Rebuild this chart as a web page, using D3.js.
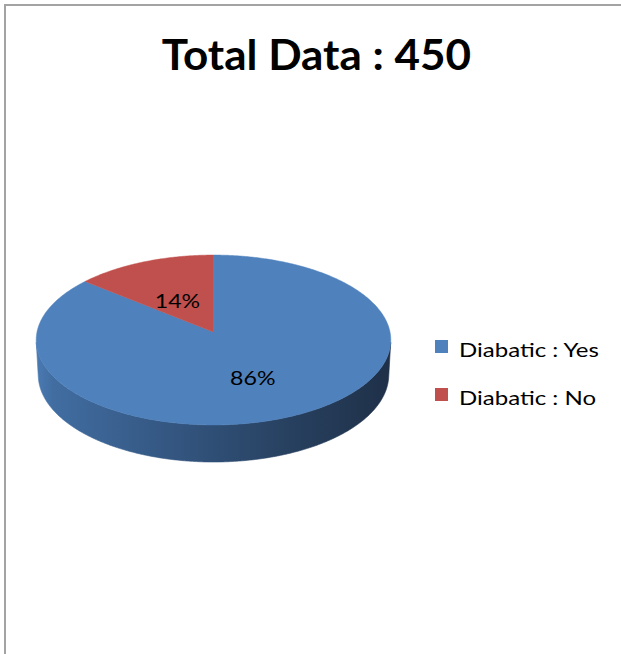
<!DOCTYPE html>
<html>
<head>
<meta charset="utf-8">
<script src="https://cdn.jsdelivr.net/npm/d3@7/dist/d3.min.js"></script>
<style>
  html, body { margin: 0; padding: 0; background: #fff; }
  svg { display: block; }
</style>
</head>
<body>
<svg id="chart" width="621" height="654"></svg>
<script>
// ---- data ----
const title = "Total Data : 450";
const categories = ["Diabatic : Yes", "Diabatic : No"];
const values = [86, 14];          // percent
const colors = ["#4f81bd", "#c0504d"];
const sideColors = [
  ["#4b7bb3", "#416da1", "#33557f", "#27405f", "#1f3048"],
  ["#c0504d", "#a8433f", "#8c3633", "#6e2a28", "#5a2220"]
];

// ---- layout ----
const svg = d3.select("#chart");
const FONT = "Lato, 'Open Sans', sans-serif";

// widen glyphs horizontally (reference font is wider than Lato)
function stretch(sel, k) {
  sel.each(function () {
    const w = this.getComputedTextLength();
    d3.select(this).attr("textLength", w * k).attr("lengthAdjust", "spacingAndGlyphs");
  });
}

// frame
svg.append("rect")
  .attr("x", 5).attr("y", 5)
  .attr("width", 700).attr("height", 700)
  .attr("fill", "#fff")
  .attr("stroke", "#a3a3a3")
  .attr("stroke-width", 2);

// title
svg.append("text")
  .attr("x", 316.5).attr("y", 70)
  .attr("text-anchor", "middle")
  .attr("font-family", FONT)
  .attr("font-weight", "bold")
  .attr("font-size", 42)
  .attr("fill", "#000")
  .text(title)
  .call(stretch, 1.048);

// ---- 3D pie projection (perspective) ----
const cx = 213.5, cy = 332;       // projected centre of top face
const f = 1645, D = 9.32;
const phi = Math.asin(0.477);
const cphi = Math.cos(phi), sphi = Math.sin(phi);
const hDepth = 0.226;             // thickness (unit radius)

function proj(theta, r, Y) {
  const X = r * Math.sin(theta);
  const Z = r * Math.cos(theta);
  const yc = Y * cphi + Z * sphi;
  const dep = D + Z * cphi - Y * sphi;
  return [cx + X * f / dep, cy - yc * f / dep];
}

const pie = d3.pie().sort(null).value(d => d)
  .startAngle(0).endAngle(2 * Math.PI);
const arcs = pie(values);

const defs = svg.append("defs");
arcs.forEach((a, i) => {
  const g = defs.append("linearGradient")
    .attr("id", "side" + i)
    .attr("gradientUnits", "userSpaceOnUse")
    .attr("x1", cx - 178).attr("x2", cx + 178)
    .attr("y1", 0).attr("y2", 0);
  const offs = [0, 0.05, 0.4, 0.72, 1];
  offs.forEach((o, k) => g.append("stop").attr("offset", o).attr("stop-color", sideColors[i][k]));
});

const line = d3.line();
function samples(a0, a1) {
  const n = Math.max(2, Math.ceil((a1 - a0) / 0.01));
  return d3.range(n + 1).map(k => a0 + (a1 - a0) * k / n);
}

// side walls (only front-facing part)
const visLimit = Math.acos(-1 / (D * cphi));
const vis0 = visLimit, vis1 = 2 * Math.PI - visLimit;
const gSide = svg.append("g");
arcs.forEach((a, i) => {
  const s0 = Math.max(a.startAngle, vis0);
  const s1 = Math.min(a.endAngle, vis1);
  if (s1 <= s0) return;
  const ts = samples(s0, s1);
  const top = ts.map(t => proj(t, 1, 0));
  const bot = ts.slice().reverse().map(t => proj(t, 1, -hDepth));
  gSide.append("path")
    .attr("d", line(top.concat(bot)) + "Z")
    .attr("fill", "url(#side" + i + ")")
    .attr("stroke", "url(#side" + i + ")")
    .attr("stroke-width", 0.6);
});

// top faces
const gTop = svg.append("g");
arcs.forEach((a, i) => {
  const pts = [proj(0, 0, 0)].concat(samples(a.startAngle, a.endAngle).map(t => proj(t, 1, 0)));
  gTop.append("path")
    .attr("d", line(pts) + "Z")
    .attr("fill", colors[i])
    .attr("stroke", colors[i])
    .attr("stroke-width", 0.5);
});

// labels
const fmt = d3.format(".0%");
const total = d3.sum(values);
arcs.forEach((a, i) => {
  const mid = (a.startAngle + a.endAngle) / 2;
  const p = proj(mid, 0.5, 0);
  svg.append("text")
    .attr("x", p[0]).attr("y", p[1] + 13)
    .attr("text-anchor", "middle")
    .attr("font-family", FONT)
    .attr("font-size", 19)
    .attr("fill", "#000")
    .text(fmt(values[i] / total))
    .call(stretch, 1.22);
});

// legend
const legend = svg.append("g");
categories.forEach((c, i) => {
  const y = 340 + i * 48;
  legend.append("rect")
    .attr("x", 435).attr("y", y)
    .attr("width", 13).attr("height", 13)
    .attr("fill", colors[i]);
  legend.append("text")
    .attr("x", 459).attr("y", y + 17)
    .attr("font-family", FONT)
    .attr("font-size", 20)
    .attr("fill", "#000")
    .text(c)
    .call(stretch, 1.2);
});
</script>
</body>
</html>
